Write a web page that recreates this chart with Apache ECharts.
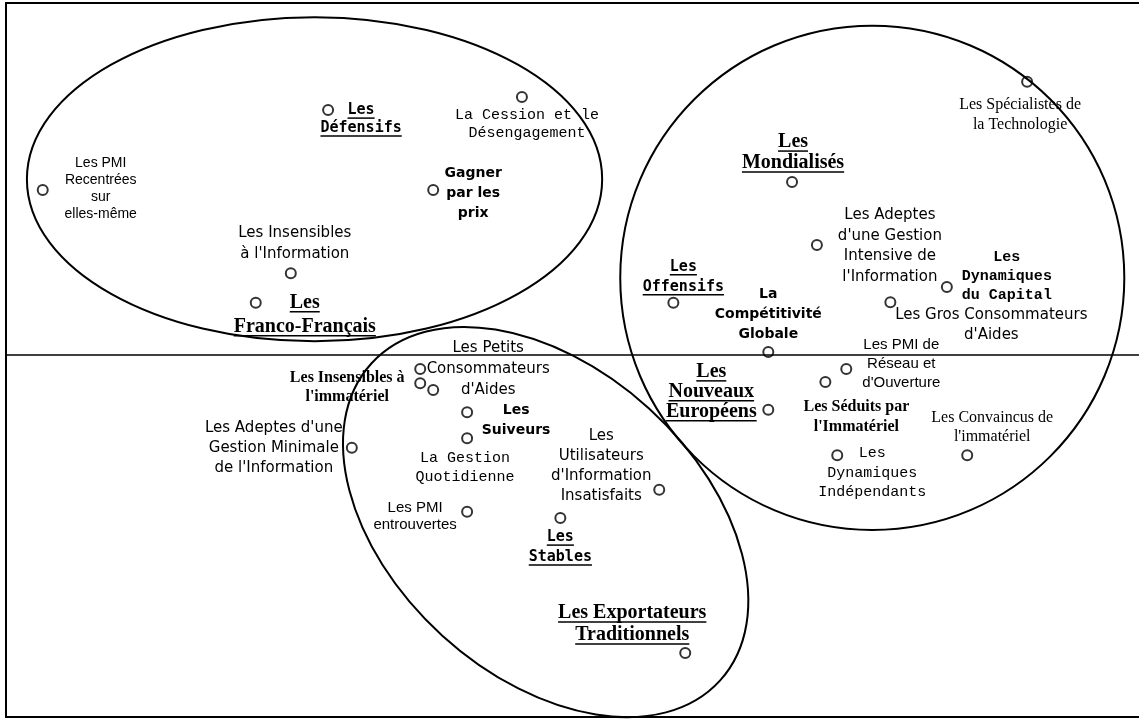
<!DOCTYPE html>
<html>
<head>
<meta charset="utf-8">
<script src="https://cdn.jsdelivr.net/npm/echarts@6/dist/echarts.min.js"></script>
<style>
  html, body { margin: 0; padding: 0; background: #fff; }
  #chart { width: 1139px; height: 722px; }
</style>
</head>
<body>
<div id="chart"></div>
<script>
// typologies (labels) and their positions on the factor plane
var labels = [
    'Les PMI\nRecentrées\nsur\nelles-même',
    'Les\nDéfensifs',
    'La Cession et le\nDésengagement',
    'Gagner\npar les\nprix',
    "Les Insensibles\nà l'Information",
    'Les\nFranco-Français',
    'Les\nMondialisés',
    'Les Spécialistes de\nla Technologie',
    "Les Adeptes\nd'une Gestion\nIntensive de\nl'Information",
    'Les\nDynamiques\ndu Capital',
    "Les Gros Consommateurs\nd'Aides",
    'Les\nOffensifs',
    'La\nCompétitivité\nGlobale',
    "Les PMI de\nRéseau et\nd'Ouverture",
    "Les Séduits par\nl'Immatériel",
    'Les\nNouveaux\nEuropéens',
    "Les Convaincus de\nl'immatériel",
    'Les\nDynamiques\nIndépendants',
    "Les Petits\nConsommateurs\nd'Aides",
    "Les Insensibles à\nl'immatériel",
    '',
    'Les\nSuiveurs',
    'La Gestion\nQuotidienne',
    "Les Adeptes d'une\nGestion Minimale\nde l'Information",
    'Les PMI\nentrouvertes',
    "Les\nUtilisateurs\nd'Information\nInsatisfaits",
    'Les\nStables',
    'Les Exportateurs\nTraditionnels'
];
var xs = [-0.935, -0.430, -0.087, -0.244, -0.496, -0.558, 0.391, 0.807, 0.435, 0.665,
          0.565, 0.181, 0.349, 0.487, 0.450, 0.349, 0.701, 0.471, -0.267, -0.267,
          -0.244, -0.184, -0.184, -0.388, -0.184, 0.156, -0.019, 0.202];
var ys = [0.290, 0.431, 0.454, 0.290, 0.143, 0.091, 0.304, 0.481, 0.193, 0.119,
          0.092, 0.091, 0.004, -0.026, -0.049, -0.098, -0.178, -0.178, -0.026, -0.051,
          -0.063, -0.102, -0.148, -0.165, -0.278, -0.239, -0.289, -0.527];

// regroupements (ellipses): centre, demi-axes, angle
var ellipseCx = [-0.454, 0.533, -0.045];
var ellipseCy = [0.309, 0.135, -0.296];
var ellipseRx = [0.509, 0.446, 0.417];
var ellipseRy = [0.286, 0.445, 0.271];
var ellipseAngle = [0, 0, -42.3];

// label look: [style, dx, dy, line height] in pixels from the marker
var labelLayout = [
    ['helv14', 58, -27, 17],
    ['monoU', 33, 0, 18],
    ['courier', 5, 18, 18],
    ['chicago', 40, -17, 20],
    ['geneva', 4, -40, 21],
    ['group', 49, 0, 24],
    ['group', 1, -40, 21],
    ['pal', -7, 23, 20],
    ['geneva', 73, -30, 20.7],
    ['courierB', 60, -30, 19],
    ['geneva', 101, 13, 20],
    ['monoU', 10, -36, 20],
    ['chicago', 0, -58, 20],
    ['helv15', 55, -24, 19],
    ['palB', 31, 25, 20],
    ['group', -57, -38, 20],
    ['pal', 25, -37, 19],
    ['courier', 35, -2, 19.5],
    ['geneva', 68, -21, 21],
    ['palB', -73, -5, 19],
    null,
    ['chicago', 49, -2, 20],
    ['courier', -2, 20, 19],
    ['geneva', -78, -20, 20],
    ['helv15', -52, -4, 17],
    ['geneva', -58, -54, 20],
    ['monoU', 0, 19, 20],
    ['group', -53, -40, 22]
];
var labelStyles = {
    group:    { font: 'bold 20px "Liberation Serif"', underline: 9 },
    monoU:    { font: 'bold 15px "DejaVu Sans Mono"', underline: 8 },
    geneva:   { font: '15px "DejaVu Sans"' },
    courier:  { font: '15px "Liberation Mono"' },
    courierB: { font: 'bold 15px "Liberation Mono"' },
    chicago:  { font: 'bold 14px "DejaVu Sans"' },
    helv14:   { font: '14px "Liberation Sans"' },
    helv15:   { font: '15px "Liberation Sans"' },
    pal:      { font: '16px "Liberation Serif"' },
    palB:     { font: 'bold 16px "Liberation Serif"' }
};

var measureCtx = document.createElement('canvas').getContext('2d');
function textWidth(t, font) {
    measureCtx.font = font;
    return measureCtx.measureText(t).width;
}

function renderEllipse(params, api) {
    var c = api.coord([api.value(0), api.value(1)]);
    var s = api.size([api.value(2), api.value(3)]);
    return {
        type: 'ellipse',
        x: c[0],
        y: c[1],
        rotation: api.value(4) * Math.PI / 180,
        shape: { cx: 0, cy: 0, rx: s[0], ry: s[1] },
        style: { fill: 'none', stroke: '#000', lineWidth: 2 }
    };
}

function renderLabel(params, api) {
    var i = api.value(2);
    var lay = labelLayout[i];
    if (!lay || !labels[i]) return;
    var st = labelStyles[lay[0]];
    var p = api.coord([api.value(0), api.value(1)]);
    var children = [];
    labels[i].split('\n').forEach(function (t, k) {
        var x = p[0] + lay[1];
        var y = p[1] + lay[2] + k * lay[3];
        children.push({
            type: 'text',
            style: { text: t, x: x, y: y, font: st.font, fill: '#000', align: 'center', verticalAlign: 'middle' }
        });
        if (st.underline) {
            var w = textWidth(t, st.font);
            children.push({
                type: 'line',
                shape: { x1: x - w / 2, y1: y + st.underline, x2: x + w / 2, y2: y + st.underline },
                style: { stroke: '#000', lineWidth: 1.5 }
            });
        }
    });
    return { type: 'group', children: children };
}

var points = xs.map(function (x, i) { return [x, ys[i], i]; });
var ellipses = ellipseCx.map(function (cx, i) {
    return [cx, ellipseCy[i], ellipseRx[i], ellipseRy[i], ellipseAngle[i]];
});

var hiddenAxis = {
    type: 'value',
    axisTick: { show: false },
    axisLabel: { show: false },
    splitLine: { show: false },
    axisLine: { show: true, onZero: false, lineStyle: { color: '#000', width: 2 } }
};

var myChart = echarts.init(document.getElementById('chart'));
var option = {
    backgroundColor: '#fff',
    animation: false,
    grid: { left: 6, right: 0, top: 3, bottom: 5 },
    xAxis: [
        Object.assign({ min: -1, max: 1.005, position: 'bottom' }, hiddenAxis),
        Object.assign({ min: -1, max: 1.005, position: 'top' }, hiddenAxis)
    ],
    yAxis: Object.assign({ min: -0.64, max: 0.62, position: 'left' }, hiddenAxis),
    series: [
        {
            type: 'custom',
            renderItem: renderEllipse,
            clip: false,
            silent: true,
            encode: { x: 0, y: 1 },
            data: ellipses
        },
        {
            type: 'scatter',
            symbol: 'circle',
            symbolSize: 10,
            itemStyle: { color: 'rgba(0,0,0,0)', borderColor: '#000', borderWidth: 2 },
            data: points,
            markLine: {
                silent: true,
                symbol: 'none',
                label: { show: false },
                lineStyle: { color: '#000', width: 1.5, type: 'solid' },
                data: [{ yAxis: 0 }]
            }
        },
        {
            type: 'custom',
            renderItem: renderLabel,
            clip: false,
            silent: true,
            encode: { x: 0, y: 1 },
            data: points
        }
    ]
};
myChart.setOption(option);
</script>
</body>
</html>
